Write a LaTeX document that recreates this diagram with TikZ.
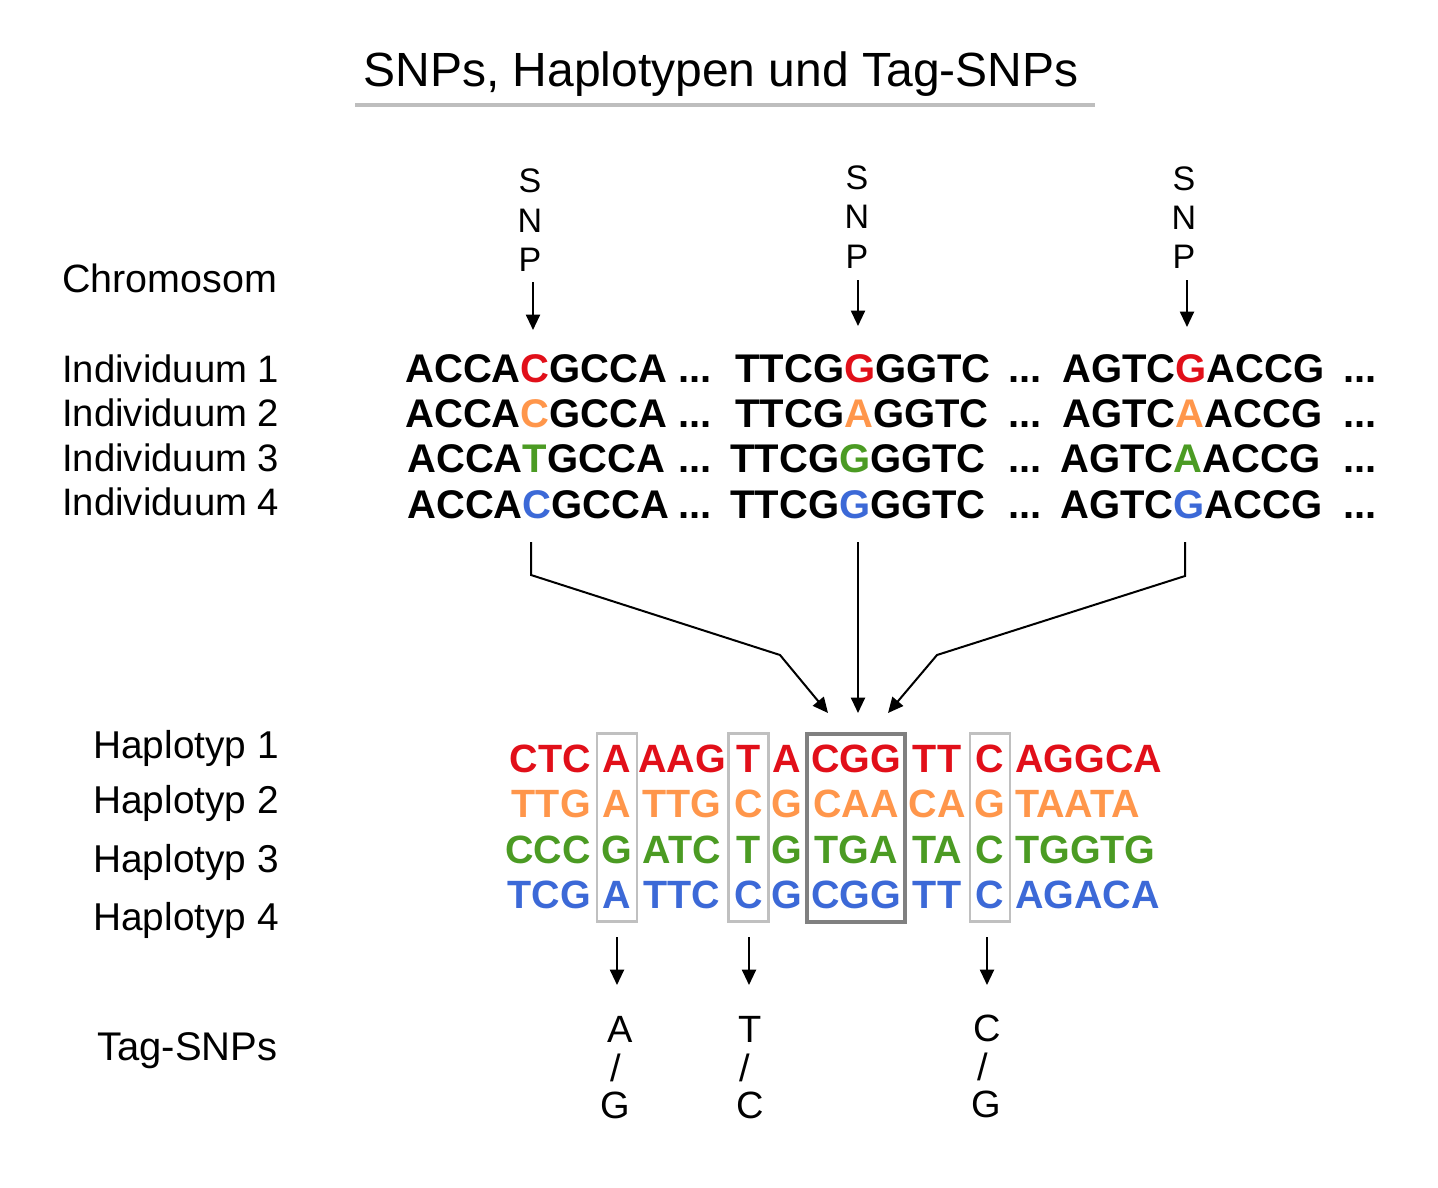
\documentclass[tikz,border=0pt]{standalone}
\usepackage{fontspec}
\setmainfont{Liberation Sans}
\usetikzlibrary{arrows.meta}
\definecolor{sred}{RGB}{225,15,25}
\definecolor{sorange}{RGB}{255,150,75}
\definecolor{sgreen}{RGB}{75,155,35}
\definecolor{sblue}{RGB}{60,105,215}
\definecolor{lightbox}{RGB}{192,192,192}
\definecolor{darkbox}{RGB}{128,128,128}
\definecolor{rulegray}{RGB}{190,190,190}
\begin{document}
\begin{tikzpicture}[x=0.75pt,y=-0.75pt,
  lbl/.style={anchor=base west,inner sep=0,font=\fontsize{#1}{31}\selectfont},
  lbl/.default=29.5,
  seq/.style={anchor=base west,inner sep=0,font=\fontsize{30}{32}\selectfont\bfseries},
  hap/.style={anchor=base,inner sep=0,font=\fontsize{29.6}{32}\selectfont\bfseries},
  snpl/.style={anchor=base,inner sep=0,font=\fontsize{25.5}{26}\selectfont},
  tagl/.style={anchor=base,inner sep=0,font=\fontsize{28.5}{30}\selectfont},
  arr/.style={-{Triangle[length=11.5pt,width=10.5pt]},line width=1.5pt},
  conn/.style={line width=1.5pt},
  lbox/.style={draw=lightbox,line width=2.2pt},
  dbox/.style={draw=darkbox,line width=3pt}]
\useasboundingbox (0,0) rectangle (1438,1188);

% title
\node[anchor=base,inner sep=0,font=\fontsize{36}{38}\selectfont] (title) at (721,86) {SNPs, Haplotypen und Tag-SNPs};
\coordinate (ulA) at (355,105);
\coordinate (ulB) at (1095,105);
\draw[draw=rulegray,line width=2.5pt] (ulA) -- (ulB);

% left labels
\node[lbl=29.6] (chrom) at (62,292) {Chromosom};
\node[lbl=28.7] (ind1) at (62,382) {Individuum 1};
\node[lbl=28.7] (ind2) at (62,426) {Individuum 2};
\node[lbl=28.7] (ind3) at (62,471) {Individuum 3};
\node[lbl=28.7] (ind4) at (62,515) {Individuum 4};
\node[lbl=29.1] (hap1) at (93,758) {Haplotyp 1};
\node[lbl=29.1] (hap2) at (93,813) {Haplotyp 2};
\node[lbl=29.1] (hap3) at (93,872) {Haplotyp 3};
\node[lbl=29.1] (hap4) at (93,930) {Haplotyp 4};
\node[lbl=30] (tagsnps) at (97,1060) {Tag-SNPs};

% SNP markers
\foreach \k/\x/\ya/\yb/\yc/\ax/\ys/\ye in {1/530/192/232/271/533/282/330, 2/857/189/228/268/858/280/326, 3/1184/190/229/268/1187/280/327}{
  \node[snpl] (snpS\k) at (\x,\ya) {S};
  \node[snpl] (snpN\k) at (\x,\yb) {N};
  \node[snpl] (snpP\k) at (\x,\yc) {P};
  \coordinate (sa\k) at (\ax,\ys);
  \coordinate (sb\k) at (\ax,\ye);
  \draw[arr] (sa\k) -- (sb\k);
}

% individual sequences
\foreach \r/\y/\c/\ba/\bb/\bc/\xa/\xb/\xc in {
  1/382/sred/C/G/G/405/735/1062,
  2/427/sorange/C/A/A/405/735/1062,
  3/472/sgreen/T/G/A/407/730/1060,
  4/518/sblue/C/G/G/407/730/1060}{
  \node[seq] (sq\r a) at (\xa,\y) {ACCA\textcolor{\c}{\ba}GCCA};
  \node[seq] (dt\r a) at (678,\y) {...};
  \node[seq] (sq\r b) at (\xb,\y) {TTCG\textcolor{\c}{\bb}GGTC};
  \node[seq] (dt\r b) at (1008,\y) {...};
  \node[seq] (sq\r c) at (\xc,\y) {AGTC\textcolor{\c}{\bc}ACCG};
  \node[seq] (dt\r c) at (1343,\y) {...};
}

% converging connectors
\coordinate (c1a) at (531,542);
\coordinate (c1b) at (531,575);
\coordinate (c1c) at (780,655);
\coordinate (c1d) at (828,713);
\draw[arr,line join=miter] (c1a) -- (c1b) -- (c1c) -- (c1d);
\coordinate (c2a) at (858,542);
\coordinate (c2d) at (858,713);
\draw[arr] (c2a) -- (c2d);
\coordinate (c3a) at (1185,542);
\coordinate (c3b) at (1185,576);
\coordinate (c3c) at (937,655);
\coordinate (c3d) at (888,713);
\draw[arr,line join=miter] (c3a) -- (c3b) -- (c3c) -- (c3d);

% haplotype boxes
\draw[lbox] (597,733.5) rectangle (637,921.5);
\draw[lbox] (728.5,733.5) rectangle (768.5,921.5);
\draw[lbox] (970,733.5) rectangle (1010,921.5);
\draw[dbox] (807,734) rectangle (905,922);

% haplotype rows
\foreach \r/\y/\c/\ca/\cb/\cc/\cd/\ce/\cf/\cg/\ch/\ci in {
  1/772/sred/CTC/A/AAG/T/A/CGG/TT/C/AGGCA,
  2/817/sorange/TTG/A/TTG/C/G/CAA/CA/G/TAATA,
  3/863/sgreen/CCC/G/ATC/T/G/TGA/TA/C/TGGTG,
  4/908/sblue/TCG/A/TTC/C/G/CGG/TT/C/AGACA}{
  \node[hap,anchor=base east,text=\c] (h\r a) at (591,\y) {\ca};
  \node[hap,text=\c] (h\r b) at (617,\y) {\cb};
  \node[hap,text=\c] (h\r c) at (682,\y) {\cc};
  \node[hap,text=\c] (h\r d) at (749,\y) {\cd};
  \node[hap,text=\c] (h\r e) at (787,\y) {\ce};
  \node[hap,text=\c] (h\r f) at (856,\y) {\cf};
  \node[hap,text=\c] (h\r g) at (937,\y) {\cg};
  \node[hap,text=\c] (h\r h) at (990,\y) {\ch};
  \node[hap,anchor=base west,text=\c] (h\r i) at (1015,\y) {\ci};
}

% tag-SNP arrows and alleles
\foreach \k/\ax/\xa/\xs/\xb/\ta/\tb/\yo in {1/617/620/616/615/A/G/0, 2/749/750/745/750/T/C/0, 3/987/987/983/986/C/G/-1}{
  \coordinate (ta\k) at (\ax,937);
  \coordinate (tb\k) at (\ax,985);
  \draw[arr] (ta\k) -- (tb\k);
  \node[tagl] (tgA\k) at (\xa,1042+\yo) {\ta};
  \node[tagl] (tgS\k) at (\xs,1081+\yo) {/};
  \node[tagl] (tgB\k) at (\xb,1118+\yo) {\tb};
}
\end{tikzpicture}
\end{document}
